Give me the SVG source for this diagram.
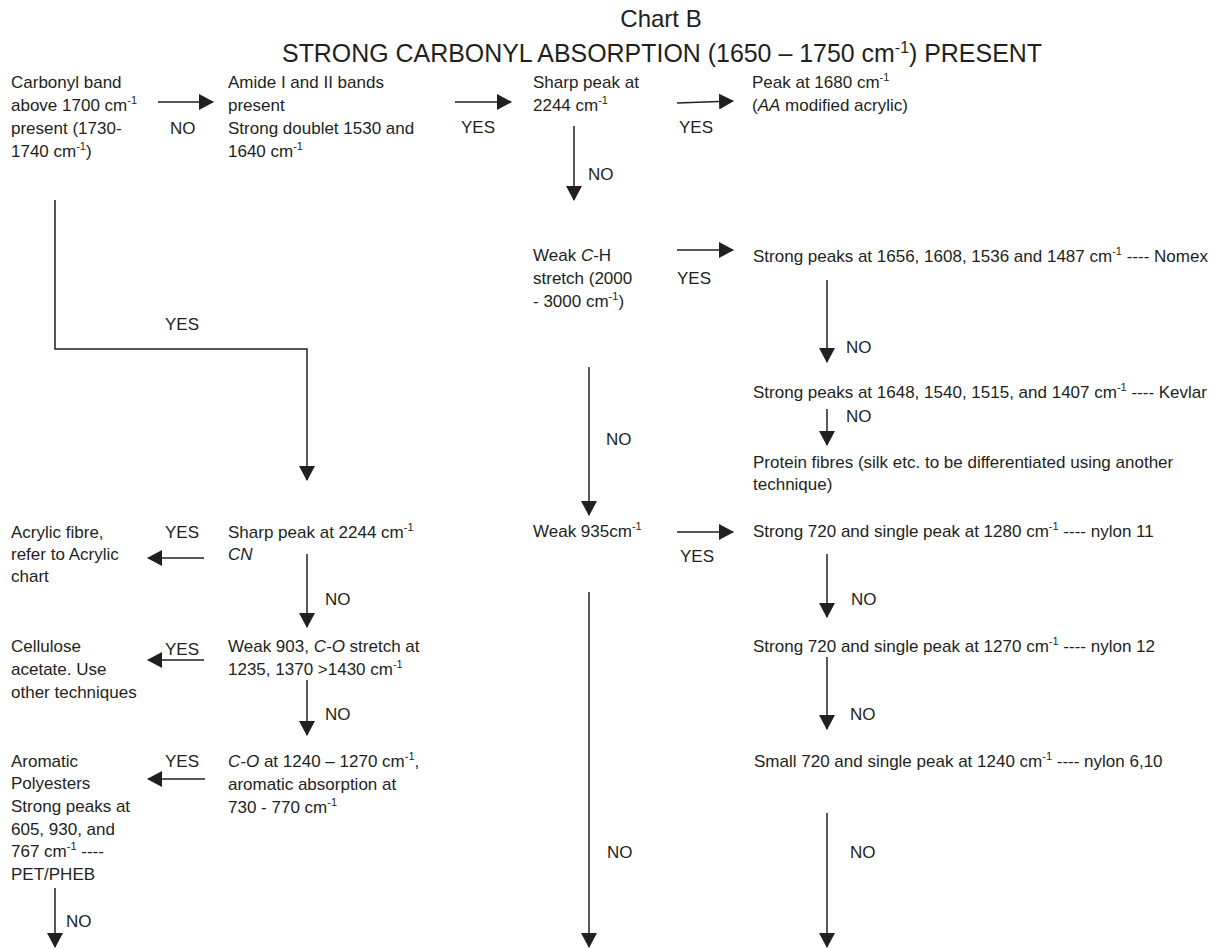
<svg xmlns="http://www.w3.org/2000/svg" width="1221" height="949" viewBox="0 0 1221 949">
<style>
text{font-family:"Liberation Sans",Arial,sans-serif;font-size:17px;fill:#231f20}
.h{font-size:24px}
.h2{font-size:25px}
.s{font-size:11px}
.hs{font-size:16px}
.i{font-style:italic}
.c{stroke:#231f20;stroke-width:1.5;fill:none}
</style>
<defs>
<marker id="ah" markerUnits="userSpaceOnUse" markerWidth="15" markerHeight="16" viewBox="0 0 15 16" refX="14" refY="8" orient="auto">
<path d="M0,0 L15,8 L0,16 Z" fill="#231f20"/>
</marker>
</defs>
<rect width="1221" height="949" fill="#fff"/>
<g id="title">
<text class="h" x="661" y="27" text-anchor="middle">Chart B</text>
<text class="h2" x="282" y="62" textLength="760" lengthAdjust="spacingAndGlyphs">STRONG CARBONYL ABSORPTION (1650 – 1750 cm<tspan class="hs" dy="-9">-1</tspan><tspan dy="9">) PRESENT</tspan></text>
</g>
<g id="n-carbonyl">
<text x="11" y="88">Carbonyl band</text>
<text x="11" y="111">above 1700 cm<tspan class="s" dy="-7">-1</tspan></text>
<text x="11" y="134">present (1730-</text>
<text x="11" y="157">1740 cm<tspan class="s" dy="-7">-1</tspan><tspan dy="7">)</tspan></text>
</g>
<g id="n-amide">
<text x="228" y="88">Amide I and II bands</text>
<text x="228" y="111">present</text>
<text x="228" y="134">Strong doublet 1530 and</text>
<text x="228" y="157">1640 cm<tspan class="s" dy="-7">-1</tspan></text>
</g>
<g id="n-sharp1">
<text x="533" y="88">Sharp peak at</text>
<text x="533" y="111">2244 cm<tspan class="s" dy="-7">-1</tspan></text>
</g>
<g id="n-aa">
<text x="752" y="88">Peak at 1680 cm<tspan class="s" dy="-7">-1</tspan></text>
<text x="752" y="111">(<tspan class="i">AA</tspan> modified acrylic)</text>
</g>
<g id="n-weakch">
<text x="533" y="261">Weak <tspan class="i">C</tspan>-H</text>
<text x="533" y="284">stretch  (2000</text>
<text x="533" y="307">- 3000  cm<tspan class="s" dy="-7">-1</tspan><tspan dy="7">)</tspan></text>
</g>
<g id="n-nomex">
<text x="753" y="262">Strong peaks at 1656, 1608, 1536 and 1487 cm<tspan class="s" dy="-7">-1</tspan><tspan dy="7"> ---- Nomex</tspan></text>
</g>
<g id="n-kevlar">
<text x="753" y="398">Strong peaks at 1648, 1540, 1515, and 1407 cm<tspan class="s" dy="-7">-1</tspan><tspan dy="7">  ---- Kevlar</tspan></text>
</g>
<g id="n-protein">
<text x="753" y="468">Protein fibres (silk etc. to be differentiated using another</text>
<text x="753" y="490">technique)</text>
</g>
<g id="n-weak935">
<text x="533" y="537">Weak 935cm<tspan class="s" dy="-7">-1</tspan></text>
</g>
<g id="n-nylon11">
<text x="753" y="537">Strong 720 and single peak at 1280 cm<tspan class="s" dy="-7">-1</tspan><tspan dy="7">  ---- nylon 11</tspan></text>
</g>
<g id="n-nylon12">
<text x="753" y="652">Strong 720 and single peak at 1270 cm<tspan class="s" dy="-7">-1</tspan><tspan dy="7"> ---- nylon 12</tspan></text>
</g>
<g id="n-nylon610">
<text x="754" y="767">Small 720 and single  peak at 1240 cm<tspan class="s" dy="-7">-1</tspan><tspan dy="7"> ---- nylon 6,10</tspan></text>
</g>
<g id="n-sharp2">
<text x="228" y="538">Sharp peak at 2244 cm<tspan class="s" dy="-7">-1</tspan></text>
<text x="228" y="560" class="i">CN</text>
</g>
<g id="n-acrylic">
<text x="11" y="538">Acrylic fibre,</text>
<text x="11" y="560">refer to Acrylic</text>
<text x="11" y="582">chart</text>
</g>
<g id="n-weak903">
<text x="228" y="652">Weak 903, <tspan class="i">C-O</tspan> stretch at</text>
<text x="228" y="675">1235, 1370 &gt;1430 cm<tspan class="s" dy="-7">-1</tspan></text>
</g>
<g id="n-cellulose">
<text x="11" y="652">Cellulose</text>
<text x="11" y="675">acetate. Use</text>
<text x="11" y="698">other techniques</text>
</g>
<g id="n-co">
<text x="228" y="767"><tspan class="i">C-O</tspan> at 1240 – 1270 cm<tspan class="s" dy="-7">-1</tspan><tspan dy="7">,</tspan></text>
<text x="228" y="790">aromatic absorption at</text>
<text x="228" y="813">730 - 770 cm<tspan class="s" dy="-7">-1</tspan></text>
</g>
<g id="n-aromatic">
<text x="11" y="767">Aromatic</text>
<text x="11" y="789">Polyesters</text>
<text x="11" y="812">Strong peaks at</text>
<text x="11" y="835">605, 930, and</text>
<text x="11" y="857">767 cm<tspan class="s" dy="-7">-1</tspan><tspan dy="7"> ----</tspan></text>
<text x="11" y="880">PET/PHEB</text>
</g>
<g id="connectors">
<line class="c" x1="158" y1="102" x2="213" y2="102" marker-end="url(#ah)"/>
<line class="c" x1="455" y1="102" x2="511" y2="102" marker-end="url(#ah)"/>
<line class="c" x1="677" y1="103" x2="733" y2="101" marker-end="url(#ah)"/>
<line class="c" x1="574" y1="126" x2="574" y2="200" marker-end="url(#ah)"/>
<polyline class="c" points="55,200 55,349 307,349 307,480" marker-end="url(#ah)"/>
<line class="c" x1="677" y1="250" x2="733" y2="250" marker-end="url(#ah)"/>
<line class="c" x1="827" y1="280" x2="827" y2="362" marker-end="url(#ah)"/>
<line class="c" x1="827" y1="409" x2="827" y2="445" marker-end="url(#ah)"/>
<line class="c" x1="589" y1="367" x2="589" y2="515" marker-end="url(#ah)"/>
<line class="c" x1="677" y1="532" x2="733" y2="532" marker-end="url(#ah)"/>
<line class="c" x1="827" y1="554" x2="827" y2="617" marker-end="url(#ah)"/>
<line class="c" x1="827" y1="657" x2="827" y2="729" marker-end="url(#ah)"/>
<line class="c" x1="589" y1="592" x2="589" y2="947" marker-end="url(#ah)"/>
<line class="c" x1="827" y1="813" x2="827" y2="947" marker-end="url(#ah)"/>
<line class="c" x1="204" y1="558" x2="148" y2="558" marker-end="url(#ah)"/>
<line class="c" x1="307" y1="554" x2="307" y2="627" marker-end="url(#ah)"/>
<line class="c" x1="204" y1="660" x2="148" y2="660" marker-end="url(#ah)"/>
<line class="c" x1="307" y1="680" x2="307" y2="735" marker-end="url(#ah)"/>
<line class="c" x1="205" y1="779" x2="148" y2="779" marker-end="url(#ah)"/>
<line class="c" x1="55" y1="888" x2="55" y2="947" marker-end="url(#ah)"/>
<text x="170" y="134">NO</text>
<text x="461" y="133">YES</text>
<text x="679" y="133">YES</text>
<text x="588" y="180">NO</text>
<text x="165" y="330">YES</text>
<text x="677" y="284">YES</text>
<text x="846" y="353">NO</text>
<text x="846" y="422">NO</text>
<text x="606" y="445">NO</text>
<text x="680" y="562">YES</text>
<text x="851" y="605">NO</text>
<text x="850" y="720">NO</text>
<text x="165" y="538">YES</text>
<text x="325" y="605">NO</text>
<text x="165" y="655">YES</text>
<text x="325" y="720">NO</text>
<text x="165" y="767">YES</text>
<text x="607" y="858">NO</text>
<text x="850" y="858">NO</text>
<text x="66" y="927">NO</text>
</g>
</svg>
